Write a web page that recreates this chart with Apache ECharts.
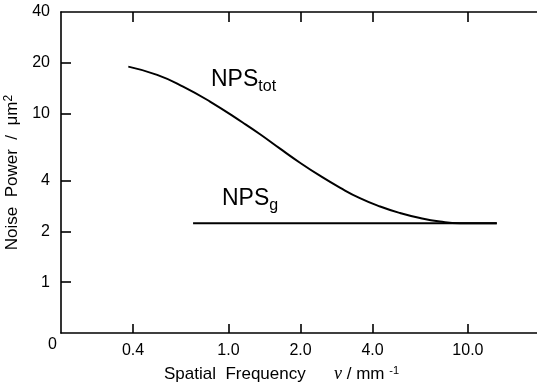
<!DOCTYPE html>
<html>
<head>
<meta charset="utf-8">
<script src="https://cdn.jsdelivr.net/npm/echarts@6/dist/echarts.min.js"></script>
<style>
html,body{margin:0;padding:0;background:#fff;}
#c{width:537px;height:390px;}
</style>
</head>
<body>
<div id="c"></div>
<script>
// ---- data ----
var freqTot = [0.382, 0.504, 0.647, 0.838, 1.151, 1.356, 1.643, 1.99, 2.41, 2.92, 3.54, 4.30, 5.21, 6.31, 7.64, 9.26, 13.2];
var npsTot  = [18.98, 16.96, 14.46, 11.78, 8.82, 7.54, 6.19, 5.11, 4.28, 3.64, 3.15, 2.81, 2.57, 2.40, 2.29, 2.24, 2.24];
var freqG = [0.712, 13.2];
var npsG  = [2.24, 2.24];
var xTickValues = [0.4, 1, 2, 4, 10];
var xTickLabels = ['0.4', '1.0', '2.0', '4.0', '10.0'];
var yTickValues = [0.5, 1, 2, 4, 10, 20, 40];
var yTickLabels = ['0', '1', '2', '4', '10', '20', '40'];
var yTickMarks = [1, 2, 4, 10, 20];

var FONT = '"Liberation Sans", Arial, Helvetica, sans-serif';

function pairs(xs, ys) { return xs.map(function (x, i) { return [x, ys[i]]; }); }
function labelFor(values, labels, v) {
  for (var i = 0; i < values.length; i++) if (Math.abs(values[i] - v) < 1e-6 * Math.max(1, values[i])) return labels[i];
  return '';
}

var chart = echarts.init(document.getElementById('c'), null, {renderer: 'canvas'});
var axisLineStyle = {color: '#000', width: 1.6};
chart.setOption({
  animation: false,
  backgroundColor: '#fff',
  grid: {left: 61, top: 12, right: -3, bottom: 57, containLabel: false, outerBoundsMode: 'none'},
  xAxis: [{
    type: 'log', logBase: 10, min: 0.2, max: 20, position: 'bottom',
    axisLine: {show: true, lineStyle: axisLineStyle},
    axisTick: {show: true, inside: true, length: 9, customValues: xTickValues, lineStyle: {color: '#000', width: 1.6}},
    minorTick: {show: false},
    splitLine: {show: false},
    axisLabel: {
      show: true, customValues: xTickValues, margin: 10,
      color: '#000', fontFamily: FONT, fontSize: 16,
      formatter: function (v) { return labelFor(xTickValues, xTickLabels, v); }
    },
    name: '{t|Spatial  Frequency}      {i|ν} {t|/ mm} {s|-1}',
    nameLocation: 'middle', nameGap: 32,
    nameTextStyle: {
      color: '#000', fontFamily: FONT, fontSize: 17, padding: [0, 38, 0, 0],
      rich: {
        t: {fontFamily: FONT, fontSize: 17, color: '#000'},
        i: {fontFamily: '"Liberation Serif", "DejaVu Serif", serif', fontStyle: 'italic', fontSize: 18, color: '#000'},
        s: {fontFamily: FONT, fontSize: 11, color: '#000', verticalAlign: 'top', padding: [0, 0, 7, 0]}
      }
    }
  }, {
    type: 'log', logBase: 10, min: 0.2, max: 20, position: 'top',
    axisLine: {show: true, lineStyle: axisLineStyle},
    axisTick: {show: true, inside: true, length: 10, customValues: xTickValues, lineStyle: {color: '#000', width: 1.6}},
    minorTick: {show: false},
    splitLine: {show: false},
    axisLabel: {show: false}
  }],
  yAxis: [{
    type: 'log', logBase: 10, min: 0.5, max: 40, position: 'left',
    axisLine: {show: true, lineStyle: axisLineStyle},
    axisTick: {show: true, inside: true, length: 10, customValues: yTickMarks, lineStyle: {color: '#000', width: 1.6}},
    minorTick: {show: false},
    splitLine: {show: false},
    axisLabel: {
      show: true, customValues: yTickValues, margin: 4,
      color: '#000', fontFamily: FONT, fontSize: 16,
      formatter: function (v) {
        var s = labelFor(yTickValues, yTickLabels, v);
        return Math.abs(v - 0.5) < 1e-6 ? '{z|' + s + '}' : '{n|' + s + '}';
      },
      rich: {
        n: {fontFamily: FONT, fontSize: 16, color: '#000', padding: [0, 7, 0, 0]},
        z: {fontFamily: FONT, fontSize: 16, color: '#000', padding: [24, 0, 0, 0]}
      }
    },
    name: '{t|Noise  Power  /  μm}{s|2}',
    nameLocation: 'middle', nameGap: 33, nameRotate: 90,
    nameTextStyle: {
      color: '#000', fontFamily: FONT, fontSize: 17,
      rich: {
        t: {fontFamily: FONT, fontSize: 17, color: '#000'},
        s: {fontFamily: FONT, fontSize: 12, color: '#000', verticalAlign: 'top', padding: [0, 0, 8, 0]}
      }
    }
  }],
  series: [{
    name: 'NPS_tot', type: 'line', xAxisIndex: 0, yAxisIndex: 0,
    data: pairs(freqTot, npsTot), smooth: 0.5, showSymbol: false, symbol: 'none',
    lineStyle: {color: '#000', width: 2}
  }, {
    name: 'NPS_g', type: 'line', xAxisIndex: 0, yAxisIndex: 0,
    data: pairs(freqG, npsG), showSymbol: false, symbol: 'none',
    lineStyle: {color: '#000', width: 2}
  }],
  graphic: [{
    type: 'text', left: 211, top: 68,
    style: {
      text: '{b|NPS}{s|tot}', fill: '#000',
      rich: {
        b: {fontFamily: FONT, fontSize: 23, fill: '#000'},
        s: {fontFamily: FONT, fontSize: 16, fill: '#000', padding: [14, 0, 0, 0]}
      }
    }
  }, {
    type: 'text', left: 222, top: 187,
    style: {
      text: '{b|NPS}{s|g}', fill: '#000',
      rich: {
        b: {fontFamily: FONT, fontSize: 23, fill: '#000'},
        s: {fontFamily: FONT, fontSize: 16, fill: '#000', padding: [14, 0, 0, 0]}
      }
    }
  }]
});
</script>
</body>
</html>
